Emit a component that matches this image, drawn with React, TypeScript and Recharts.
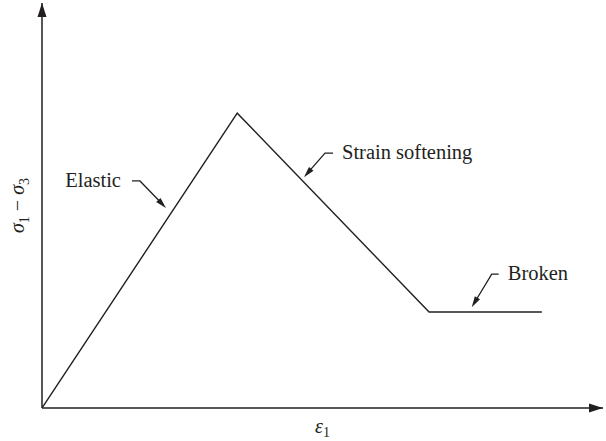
import { LineChart, Line, XAxis, YAxis, ReferenceDot, ReferenceLine } from 'recharts'

// schematic stress-strain curve (arbitrary units, axis runs 0..10)
const strain = [0, 3.48, 6.9, 8.91]
const stress = [0, 7.28, 2.37, 2.37]

// annotation labels and the points their arrows touch
const noteLabels = ['Elastic', 'Strain softening', 'Broken']
const noteStrain = [2.21, 4.67, 7.66]
const noteStress = [4.94, 5.7, 2.49]

const data = strain.map((x, i) => ({ strain: x, stress: stress[i] }))
const notes = noteLabels.map((text, i) => ({ text, x: noteStrain[i], y: noteStress[i] }))

const font = '"Liberation Serif", "DejaVu Serif", serif'
const ink = '#231f20'

// leader shapes: [elbow dx, elbow dy, end dx, text dx, anchor]
const leaders: Record<string, [number, number, number, number, 'start' | 'end']> = {
  Elastic: [-26, -27, -34, -45, 'end'],
  'Strain softening': [21, -24, 29, 38, 'start'],
  Broken: [20, -33, 27, 36, 'start'],
}

function Note({ cx, cy, text }: any) {
  const [ex, ey, hx, tx, anchor] = leaders[text]
  const len = Math.hypot(ex, ey)
  const ux = ex / len
  const uy = ey / len
  const hl = 11
  const hw = 3
  const bx = cx + ux * hl
  const by = cy + uy * hl
  const head = `${cx},${cy} ${bx - uy * hw},${by + ux * hw} ${bx + uy * hw},${by - ux * hw}`
  return (
    <g>
      <polyline points={`${cx + ux * 4},${cy + uy * 4} ${cx + ex},${cy + ey} ${cx + hx},${cy + ey}`} fill="none" stroke={ink} strokeWidth={1.3} />
      <polygon points={head} fill={ink} />
      <text x={cx + tx} y={cy + ey + 6} textAnchor={anchor} fontFamily={font} fontSize={20.5} fill={ink}>
        {text}
      </text>
    </g>
  )
}

function ArrowRight({ cx, cy }: any) {
  return <polygon points={`${cx},${cy} ${cx - 14},${cy - 4.5} ${cx - 14},${cy + 4.5}`} fill={ink} />
}

function ArrowUp({ cx, cy }: any) {
  return <polygon points={`${cx},${cy} ${cx - 4.5},${cy + 14} ${cx + 4.5},${cy + 14}`} fill={ink} />
}

function XLabel({ viewBox }: any) {
  const { x, y, width } = viewBox
  return (
    <text x={x + width / 2} y={y + 25} textAnchor="middle" fontFamily={font} fontSize={20} fill={ink}>
      <tspan fontStyle="italic">ε</tspan>
      <tspan fontSize={14} dy={4}>1</tspan>
    </text>
  )
}

function YLabel({ viewBox }: any) {
  const { y, height } = viewBox
  const cx = 24
  const cy = y + height / 2
  return (
    <text x={cx} y={cy} transform={`rotate(-90 ${cx} ${cy})`} textAnchor="middle" fontFamily={font} fontSize={20} fill={ink}>
      <tspan fontStyle="italic">σ</tspan>
      <tspan fontSize={14} dy={5}>1</tspan>
      <tspan dy={-5}> − </tspan>
      <tspan fontStyle="italic">σ</tspan>
      <tspan fontSize={14} dy={5}>3</tspan>
    </text>
  )
}

export default function App() {
  return (
    <div style={{ position: 'absolute', left: 0, top: 0, background: '#fff' }}>
      <LineChart width={606} height={441} data={data} margin={{ top: 3, right: 3, bottom: 33, left: 42 }}>
        <XAxis dataKey="strain" type="number" domain={[0, 10]} allowDataOverflow hide />
        <YAxis type="number" domain={[0, 10]} allowDataOverflow hide />
        <ReferenceLine y={0} stroke={ink} strokeWidth={1.5} ifOverflow="visible" label={<XLabel />} />
        <ReferenceLine x={0} stroke={ink} strokeWidth={1.5} ifOverflow="visible" label={<YLabel />} />
        <Line
          dataKey="stress"
          type="linear"
          stroke={ink}
          strokeWidth={1.4}
          dot={false}
          activeDot={false}
          isAnimationActive={false}
        />
        <ReferenceDot x={10} y={0} ifOverflow="visible" shape={<ArrowRight />} />
        <ReferenceDot x={0} y={10} ifOverflow="visible" shape={<ArrowUp />} />
        {notes.map((n) => (
          <ReferenceDot
            key={n.text}
            x={n.x}
            y={n.y}
            ifOverflow="visible"
            shape={(p: any) => <Note cx={p.cx} cy={p.cy} text={n.text} />}
          />
        ))}
      </LineChart>
    </div>
  )
}
